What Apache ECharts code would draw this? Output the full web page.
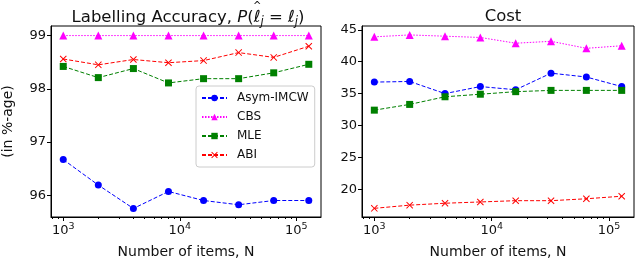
<!DOCTYPE html>
<html>
<head>
<meta charset="utf-8">
<script src="https://cdn.jsdelivr.net/npm/echarts@6/dist/echarts.min.js"></script>
<style>html,body{margin:0;padding:0;background:#fff}#c{width:640px;height:264px}</style>
</head>
<body>
<div id="c"></div>
<script>
const N = [1000, 2000, 4000, 8000, 16000, 32000, 64000, 128000];
const seriesNames = ['Asym-IMCW', 'CBS', 'MLE', 'ABI'];
const accAsym = [96.67, 96.19, 95.75, 96.07, 95.90, 95.82, 95.90, 95.90];
const accCBS  = [99.0, 99.0, 99.0, 99.0, 99.0, 99.0, 99.0, 99.0];
const accMLE  = [98.42, 98.21, 98.38, 98.11, 98.19, 98.19, 98.30, 98.46];
const accABI  = [98.56, 98.45, 98.55, 98.49, 98.53, 98.68, 98.59, 98.80];
const costAsym = [36.8, 36.9, 35.0, 36.1, 35.6, 38.2, 37.6, 36.1];
const costCBS  = [43.9, 44.2, 44.0, 43.8, 42.9, 43.2, 42.1, 42.5];
const costMLE  = [32.4, 33.3, 34.5, 34.9, 35.3, 35.5, 35.5, 35.5];
const costABI  = [17.0, 17.5, 17.8, 18.0, 18.2, 18.2, 18.5, 18.9];
const xMajor = [1000, 10000, 100000];
const xMinor = [800, 900, 2000, 3000, 4000, 5000, 6000, 7000, 8000, 9000,
  20000, 30000, 40000, 50000, 60000, 70000, 80000, 90000];
const accTicks = [96, 97, 98, 99];
const costTicks = [20, 25, 30, 35, 40, 45];

const FONT = 'DejaVu Sans';
const TXT = '#111';
const xMin = Math.pow(10, 2.895), xMax = Math.pow(10, 5.212);

function majorX(grid) {
  return {
    gridIndex: grid, type: 'log', logBase: 10, min: xMin, max: xMax,
    axisLine: {show: true, lineStyle: {color: '#000', width: 1}},
    axisTick: {show: true, customValues: xMajor, length: 4, lineStyle: {color: '#000'}},
    axisLabel: {
      customValues: xMajor, margin: 5, color: TXT,
      formatter: v => '{a|10}{b|' + Math.round(Math.log10(v)) + '}',
      rich: {
        a: {fontFamily: FONT, fontSize: 13, color: TXT},
        b: {fontFamily: FONT, fontSize: 9.5, color: TXT, padding: [0, 0, 8, 0]}
      }
    },
    splitLine: {show: false},
    name: 'Number of items, N', nameLocation: 'middle', nameGap: 28,
    nameTextStyle: {fontFamily: FONT, fontSize: 14, color: TXT}
  };
}
function minorX(grid) {
  return {
    gridIndex: grid, type: 'log', logBase: 10, min: xMin, max: xMax, position: 'bottom',
    axisLine: {show: false},
    axisTick: {show: true, customValues: xMinor, length: 2, lineStyle: {color: '#000'}},
    axisLabel: {show: false}, splitLine: {show: false}
  };
}
function yAx(grid, min, max, ticks, name) {
  return {
    gridIndex: grid, type: 'value', min: min, max: max,
    axisLine: {show: true, lineStyle: {color: '#000', width: 1}},
    axisTick: {show: true, customValues: ticks, length: 4, lineStyle: {color: '#000'}},
    axisLabel: {customValues: ticks, margin: 5, fontFamily: FONT, fontSize: 13, color: TXT},
    splitLine: {show: false},
    name: name, nameLocation: 'middle', nameGap: 36,
    nameTextStyle: {fontFamily: FONT, fontSize: 14, color: TXT}
  };
}

const xPath = 'path://M0,1L1,0L5,4L9,0L10,1L6,5L10,9L9,10L5,6L1,10L0,9L4,5Z';
const styles = {
  'Asym-IMCW': {color: '#0000ff', symbol: 'circle', symbolSize: 7, type: [4, 2]},
  'CBS': {color: '#ff00ff', symbol: 'triangle', symbolSize: 8, type: [1.5, 1.5]},
  'MLE': {color: '#008000', symbol: 'rect', symbolSize: 7, type: [4, 2]},
  'ABI': {color: '#ff0000', symbol: xPath, symbolSize: 7, type: [4, 2]}
};
function mk(name, arr, xi, yi) {
  const s = styles[name];
  return {
    name: name, type: 'line', xAxisIndex: xi, yAxisIndex: yi,
    data: N.map((n, i) => [n, arr[i]]),
    symbol: s.symbol, symbolSize: s.symbolSize, showAllSymbol: true,
    itemStyle: {color: s.color, borderWidth: 0},
    lineStyle: {color: s.color, width: 1, type: s.type},
    animation: false, z: 3
  };
}

const chart = echarts.init(document.getElementById('c'), null, {renderer: 'canvas'});
chart.setOption({
  animation: false,
  backgroundColor: '#fff',
  title: [
    {
      text: '{n|Labelling Accuracy, }{i|P}{n|(}{i|ℓ}{s|j}{n| = }{i|ℓ}{s|j}{n|)}',
      left: 183, top: 3, textAlign: 'center',
      textStyle: {
        fontWeight: 'normal',
        rich: {
          n: {fontFamily: FONT, fontSize: 16.5, fontWeight: 'normal', color: TXT},
          i: {fontFamily: FONT, fontSize: 16.5, fontWeight: 'normal', fontStyle: 'italic', color: TXT},
          s: {fontFamily: FONT, fontSize: 11.5, fontWeight: 'normal', fontStyle: 'italic', color: TXT, padding: [8, 0, 0, 0]}
        }
      }
    },
    {
      text: 'Cost', left: 498, top: 3, textAlign: 'center',
      textStyle: {fontFamily: FONT, fontSize: 16.5, fontWeight: 'normal', color: TXT}
    }
  ],
  graphic: [
    {type: 'text', left: 253, top: 1, z: 10,
     style: {text: '^', fontFamily: FONT, fontSize: 10, fill: TXT}}
  ],
  legend: {
    data: seriesNames,
    orient: 'vertical', left: 196, top: 86,
    padding: [5, 6, 5, 5], itemGap: 5, itemWidth: 25, itemHeight: 8,
    backgroundColor: 'rgba(255,255,255,0.8)',
    borderColor: '#cccccc', borderWidth: 1, borderRadius: 3,
    textStyle: {fontFamily: FONT, fontSize: 12, color: TXT, padding: [0, 0, 0, 5], lineHeight: 14}
  },
  grid: [
    {left: 45, right: 319, top: 26, bottom: 40, show: true, borderColor: '#000', borderWidth: 1, backgroundColor: 'transparent'},
    {left: 362, right: 6, top: 26, bottom: 41, show: true, borderColor: '#000', borderWidth: 1, backgroundColor: 'transparent'}
  ],
  xAxis: [majorX(0), minorX(0), majorX(1), minorX(1)],
  yAxis: [yAx(0, 95.59, 99.18, accTicks, '(in %-age)'), yAx(1, 15.64, 45.6, costTicks, '')],
  series: [
    mk('Asym-IMCW', accAsym, 0, 0),
    mk('CBS', accCBS, 0, 0),
    mk('MLE', accMLE, 0, 0),
    mk('ABI', accABI, 0, 0),
    mk('Asym-IMCW', costAsym, 2, 1),
    mk('CBS', costCBS, 2, 1),
    mk('MLE', costMLE, 2, 1),
    mk('ABI', costABI, 2, 1)
  ]
});
</script>
</body>
</html>
